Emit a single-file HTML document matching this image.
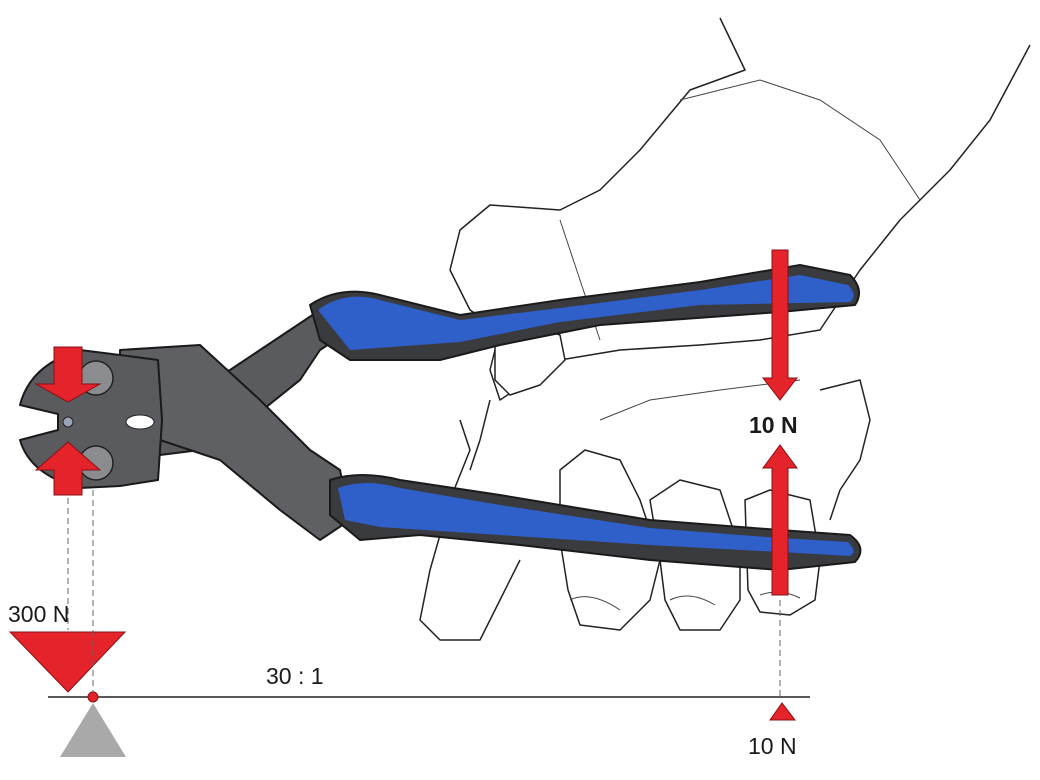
<!DOCTYPE html>
<html><head><meta charset="utf-8"><style>html,body{margin:0;padding:0;background:#fff}svg{display:block}</style></head>
<body>
<svg width="1040" height="780" viewBox="0 0 1040 780" xmlns="http://www.w3.org/2000/svg" font-family="Liberation Sans, sans-serif">
<!-- hand / glove -->
<g fill="#fff" stroke="#222" stroke-width="1.5" stroke-linejoin="round">
<path d="M720 18 L745 70 L690 90 L640 150 L600 190 L560 210 L490 205 L460 230 L450 270 L470 310 L500 330 L490 370 L500 400 L530 380 L560 360 L620 350 L700 345 L760 340 L820 330 L840 300 L860 270 L900 220 L950 170 L990 120 L1030 45"/>
<path d="M460 420 L470 450 L450 500 L430 570 L420 620 L440 640 L480 640 L500 600 L520 560"/>
<path d="M560 470 L585 450 L620 460 L640 500 L660 560 L650 600 L620 630 L580 625 L568 590 L560 540 Z"/>
<path d="M650 500 L680 480 L720 490 L740 550 L740 600 L720 630 L680 630 L665 600 L660 560 Z"/>
<path d="M745 500 L770 490 L810 500 L820 560 L815 600 L790 615 L760 612 L748 590 Z"/>
<path d="M495 330 L530 325 L560 335 L565 360 L540 385 L510 395 L495 380 Z"/>
<path d="M820 390 L860 380 L870 420 L860 460 L840 490 L830 520" fill="none"/>
<path d="M490 400 L480 440 L470 470" fill="none"/>
</g>
<g fill="none" stroke="#444" stroke-width="1">
<path d="M680 100 L760 80 L820 100 L880 140 L920 200"/>
<path d="M560 220 L580 280 L600 340"/>
<path d="M600 420 L650 400 L720 390 L800 380"/>
<path d="M570 600 Q590 590 620 610"/><path d="M670 600 Q690 590 715 605"/><path d="M760 595 Q780 588 800 598"/>
</g>
<!-- pliers -->
<g stroke="#1a1a1a" stroke-width="2" stroke-linejoin="round">
<path d="M150 400 L230 370 L320 310 L340 300 L350 330 L320 350 L300 380 L250 420 L200 450 L160 455 Z" fill="#5a5b5e"/>
<path d="M120 350 L200 345 L260 400 L310 450 L340 470 L350 520 L320 540 L280 510 L220 460 L160 440 L120 450 Z" fill="#5f6063"/>
<path d="M20 405 Q30 365 80 350 L120 355 L158 360 L162 420 L158 480 L120 486 L80 488 Q30 475 20 440 L58 430 L58 414 Z" fill="#5a5b5e"/>
<path d="M310 305 Q340 285 380 295 L460 315 L560 300 L700 282 L800 265 L850 275 Q865 290 855 305 L780 312 L600 325 L500 345 L440 360 L350 360 L320 340 Z" fill="#3a3b3e"/>
<path d="M330 480 Q360 470 400 480 L500 495 L650 520 L780 530 L850 535 Q868 548 855 562 L780 570 L650 560 L520 545 L420 535 L360 540 L330 515 Z" fill="#3a3b3e"/>
</g>
<g fill="#2f5fc9">
<path d="M318 310 Q345 290 380 300 L460 320 L560 308 L700 290 L800 275 L848 285 Q858 295 850 302 L700 305 L560 322 L460 342 L350 350 Z"/>
<path d="M338 488 Q365 478 400 488 L500 505 L650 528 L780 538 L848 542 Q858 552 850 556 L780 552 L650 545 L500 535 L380 527 L345 520 Z"/>
</g>
<g fill="#8b8c8f" stroke="#222" stroke-width="1.5">
<circle cx="96" cy="378" r="17"/><circle cx="96" cy="463" r="17"/>
</g>
<circle cx="68" cy="422" r="5" fill="#9aa3b5" stroke="#222"/>
<ellipse cx="140" cy="422" rx="14" ry="7" fill="#fff" stroke="#222"/>
<!-- red arrows -->
<g fill="#e4232a" stroke="#8a1015" stroke-width="1">
<path d="M54 347 H82 V384 H100 L68 402 L36 384 H54 Z"/>
<path d="M54 495 H82 V470 H100 L68 442 L36 470 H54 Z"/>
<path d="M772 250 H788 V378 H797 L780 400 L763 378 H772 Z"/>
<path d="M772 595 H788 V468 H797 L780 445 L763 468 H772 Z"/>
<path d="M10 632 H125 L68 692 Z"/>
<path d="M770 720 H795 L782 703 Z"/>
</g>
<!-- dashed guides -->
<g stroke="#666" stroke-width="1" stroke-dasharray="6,4">
<line x1="68" y1="498" x2="68" y2="630"/>
<line x1="93" y1="480" x2="93" y2="692"/>
<line x1="780" y1="600" x2="780" y2="700"/>
</g>
<line x1="48" y1="697" x2="810" y2="697" stroke="#222" stroke-width="1.5"/>
<path d="M60 757 H126 L93 703 Z" fill="#a9a9a9"/>
<circle cx="93" cy="697" r="5" fill="#e4232a" stroke="#8a1015"/>
<g fill="#1a1a1a" font-size="23">
<text x="749" y="433" font-weight="bold">10 N</text>
<text x="8" y="622">300 N</text>
<text x="266" y="684">30 : 1</text>
<text x="748" y="754">10 N</text>
</g>
</svg>
</body></html>
